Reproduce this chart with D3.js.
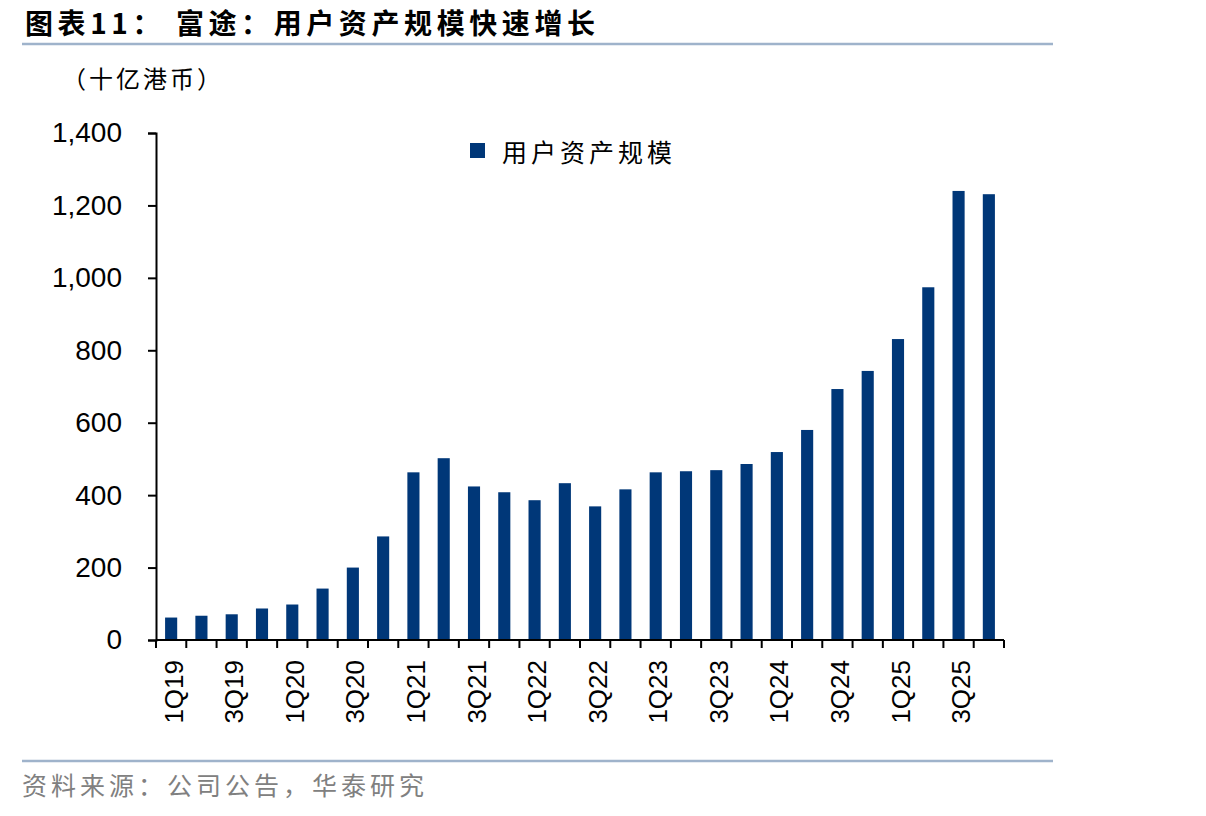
<!DOCTYPE html>
<html>
<head>
<meta charset="utf-8">
<script src="https://cdn.jsdelivr.net/npm/d3@7"></script>
<style>
  body { margin: 0; background: #fff; }
  svg { display: block; }
</style>
</head>
<body>
<div id="chart"></div>
<script>
// quarters and user asset values (HKD bn)
const quarters = [
  "1Q19", "2Q19", "3Q19", "4Q19", "1Q20", "2Q20", "3Q20", "4Q20",
  "1Q21", "2Q21", "3Q21", "4Q21", "1Q22", "2Q22", "3Q22", "4Q22",
  "1Q23", "2Q23", "3Q23", "4Q23", "1Q24", "2Q24", "3Q24", "4Q24",
  "1Q25", "2Q25", "3Q25", "4Q25"
];
const assets = [
  62, 67, 71, 87, 98, 142, 200, 286,
  463, 502, 424, 408, 386, 433, 369, 416,
  463, 466, 469, 486, 519, 580, 693, 743,
  831, 974, 1240, 1231
];
const yTicks = [0, 200, 400, 600, 800, 1000, 1200, 1400];
const seriesName = "用户资产规模";

const W = 1206, H = 816;
const margin = { left: 156, right: 202, top: 133, bottom: 176 };
const cjk = "'Noto Sans CJK SC', 'Noto Sans', sans-serif";
const latin = "'Liberation Sans', Arial, sans-serif";
const barColor = "#003778";
const ruleColor = "#9fb3cb";

const svg = d3.select("#chart")
  .append("svg")
  .attr("width", W)
  .attr("height", H);

// title + rule
svg.append("text")
  .attr("x", 25)
  .attr("y", 34)
  .attr("font-family", cjk)
  .attr("font-weight", "bold")
  .attr("font-size", 28)
  .attr("textLength", 570)
  .attr("lengthAdjust", "spacing")
  .attr("fill", "#000")
  .text("图表11： 富途：用户资产规模快速增长");

svg.append("line")
  .attr("x1", 22).attr("x2", 1053)
  .attr("y1", 44).attr("y2", 44)
  .attr("stroke", ruleColor)
  .attr("stroke-width", 2.5);

// unit label
svg.append("text")
  .attr("x", 62)
  .attr("y", 88)
  .attr("font-family", cjk)
  .attr("font-size", 24)
  .attr("letter-spacing", 3)
  .attr("fill", "#000")
  .text("（十亿港币）");

const x = d3.scaleBand()
  .domain(quarters)
  .range([margin.left, W - margin.right])
  .paddingInner(0.6)
  .paddingOuter(0.3);

const y = d3.scaleLinear()
  .domain([0, 1400])
  .range([H - margin.bottom, margin.top]);

// bars
svg.append("g")
  .selectAll("rect")
  .data(assets)
  .join("rect")
  .attr("x", (d, i) => x(quarters[i]))
  .attr("y", (d) => y(d))
  .attr("width", x.bandwidth())
  .attr("height", (d) => y(0) - y(d))
  .attr("fill", barColor);

// y axis
const yAxis = svg.append("g")
  .attr("transform", `translate(${margin.left},0)`)
  .call(d3.axisLeft(y).tickValues(yTicks).tickSize(8).tickPadding(26)
    .tickFormat(d3.format(",")));
yAxis.select(".domain").attr("stroke", "#000").attr("stroke-width", 2);
yAxis.selectAll(".tick line").attr("stroke", "#000").attr("stroke-width", 2);
yAxis.selectAll("text")
  .attr("font-family", latin)
  .attr("font-size", 28)
  .attr("fill", "#000");

// x axis: baseline + ticks at category boundaries
const step = x.step();
const x0 = margin.left;
const bounds = d3.range(quarters.length + 1).map((i) => x0 + i * step);
svg.append("line")
  .attr("x1", x0).attr("x2", W - margin.right)
  .attr("y1", y(0)).attr("y2", y(0))
  .attr("stroke", "#000")
  .attr("stroke-width", 2);
svg.append("g")
  .selectAll("line")
  .data(bounds)
  .join("line")
  .attr("x1", (d) => d).attr("x2", (d) => d)
  .attr("y1", y(0)).attr("y2", y(0) + 8)
  .attr("stroke", "#000")
  .attr("stroke-width", 2);

// rotated labels every other quarter
svg.append("g")
  .selectAll("text")
  .data(quarters.filter((q, i) => i % 2 === 0))
  .join("text")
  .attr("transform", (d) =>
    `translate(${x(d) + x.bandwidth() / 2 + 11.5},${y(0) + 20}) rotate(-90)`)
  .attr("text-anchor", "end")
  .attr("font-family", latin)
  .attr("font-size", 26)
  .attr("fill", "#000")
  .text((d) => d);

// legend
svg.append("rect")
  .attr("x", 470).attr("y", 143)
  .attr("width", 15).attr("height", 15)
  .attr("fill", barColor);
svg.append("text")
  .attr("x", 502)
  .attr("y", 162)
  .attr("font-family", cjk)
  .attr("font-size", 25)
  .attr("letter-spacing", 4)
  .attr("fill", "#000")
  .text(seriesName);

// footer
svg.append("line")
  .attr("x1", 22).attr("x2", 1053)
  .attr("y1", 761).attr("y2", 761)
  .attr("stroke", ruleColor)
  .attr("stroke-width", 2.5);
svg.append("text")
  .attr("x", 22)
  .attr("y", 795)
  .attr("font-family", cjk)
  .attr("font-size", 25)
  .attr("letter-spacing", 4)
  .attr("fill", "#808080")
  .text("资料来源：公司公告，华泰研究");
</script>
</body>
</html>
